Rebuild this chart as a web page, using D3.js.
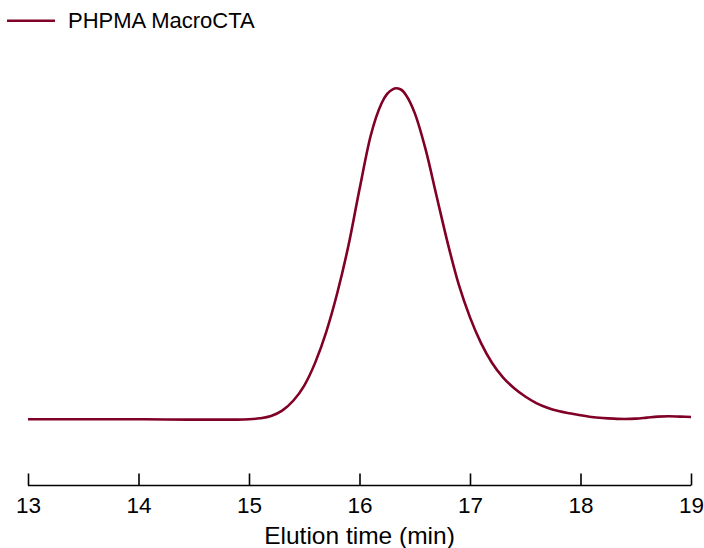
<!DOCTYPE html>
<html>
<head>
<meta charset="utf-8">
<script src="https://cdn.jsdelivr.net/npm/d3@7"></script>
<style>
  html, body { margin: 0; padding: 0; background: #fff; }
  svg { display: block; font-family: "Liberation Sans", Arial, Helvetica, sans-serif; }
</style>
</head>
<body>
<svg id="chart" width="704" height="548"></svg>
<script>
// GPC trace of the PHPMA macro-CTA (normalised RI response vs elution time)
const seriesName = "PHPMA MacroCTA";
const elutionTime = [13.0, 13.5, 14.0, 14.5, 14.9, 15.0, 15.1, 15.2, 15.3, 15.4, 15.5, 15.6, 15.7, 15.8, 15.9, 16.0, 16.1, 16.2, 16.25, 16.3, 16.33, 16.37, 16.42, 16.5, 16.6, 16.7, 16.8, 16.9, 17.0, 17.1, 17.2, 17.3, 17.4, 17.5, 17.6, 17.7, 17.8, 17.9, 18.0, 18.1, 18.2, 18.3, 18.4, 18.5, 18.6, 18.7, 18.8, 18.9, 19.0];
const response    = [0.000, 0.000, 0.000, -0.001, -0.001, 0.000, 0.003, 0.010, 0.026, 0.056, 0.102, 0.172, 0.265, 0.383, 0.525, 0.695, 0.855, 0.955, 0.983, 0.997, 1.000, 0.997, 0.980, 0.925, 0.813, 0.671, 0.530, 0.405, 0.308, 0.230, 0.170, 0.126, 0.094, 0.069, 0.049, 0.035, 0.025, 0.018, 0.012, 0.007, 0.004, 0.002, 0.001, 0.002, 0.005, 0.008, 0.009, 0.008, 0.007];
const xTicks = [13, 14, 15, 16, 17, 18, 19];
const xTitle = "Elution time (min)";

const lineColor = "#800026";
const svg = d3.select("#chart");

const x = d3.scaleLinear().domain([13, 19]).range([28, 691]);
const y = d3.scaleLinear().domain([0, 1]).range([419.3, 88.3]);

const data = elutionTime.map((t, i) => ({ t, v: response[i] }));

// trace
svg.append("path")
  .datum(data)
  .attr("fill", "none")
  .attr("stroke", lineColor)
  .attr("stroke-width", 2.6)
  .attr("stroke-linejoin", "round")
  .attr("d", d3.line().x(d => x(d.t)).y(d => y(d.v)).curve(d3.curveMonotoneX));

// x axis with inward ticks
const axisY = 485.5;
const gx = svg.append("g")
  .attr("transform", `translate(0,${axisY})`)
  .call(d3.axisBottom(x).tickValues(xTicks).tickFormat(d3.format("d")).tickSize(0).tickPadding(0));
gx.select(".domain").remove();
gx.append("line")
  .attr("x1", x(13)).attr("x2", x(19))
  .attr("stroke", "#000").attr("stroke-width", 1.6);
gx.selectAll(".tick line")
  .attr("y1", 0).attr("y2", -12)
  .attr("stroke", "#000").attr("stroke-width", 1.6);
gx.selectAll(".tick text")
  .attr("y", 27).attr("dy", null)
  .attr("fill", "#000")
  .style("font-size", "22.5px")
  .style("font-family", "'Liberation Sans', Arial, sans-serif");

// axis title
svg.append("text")
  .attr("x", (x(13) + x(19)) / 2)
  .attr("y", 544)
  .attr("text-anchor", "middle")
  .attr("fill", "#000")
  .style("font-size", "24.5px")
  .text(xTitle);

// legend
svg.append("line")
  .attr("x1", 7).attr("x2", 55)
  .attr("y1", 20.7).attr("y2", 20.7)
  .attr("stroke", lineColor).attr("stroke-width", 2.6);
svg.append("text")
  .attr("x", 68).attr("y", 28)
  .attr("fill", "#000")
  .style("font-size", "22px")
  .text(seriesName);
</script>
</body>
</html>
